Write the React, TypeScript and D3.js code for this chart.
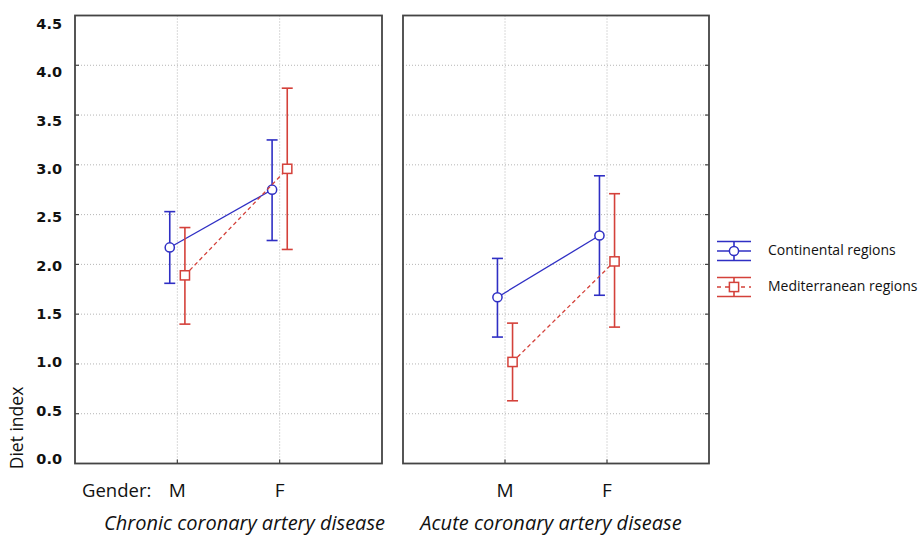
import React from "react";
import * as d3 from "d3";

const panels = ["Chronic coronary artery disease", "Acute coronary artery disease"];
const genders = ["M", "F"];
const yTicks = [0, 0.5, 1, 1.5, 2, 2.5, 3, 3.5, 4, 4.5];
const seriesNames = ["Continental regions", "Mediterranean regions"];

// [panel][gender] values
const contMean = [[2.17, 2.75], [1.67, 2.29]];
const contLow = [[1.81, 2.24], [1.27, 1.69]];
const contHigh = [[2.53, 3.25], [2.06, 2.89]];
const medMean = [[1.89, 2.96], [1.02, 2.03]];
const medLow = [[1.40, 2.15], [0.63, 1.37]];
const medHigh = [[2.37, 3.77], [1.41, 2.71]];

const BLUE = "#2f2fc4";
const RED = "#d4413a";
const AXIS = "#444";
const GRID = "#b5b5b5";

export default function App() {
  const W = 922, H = 536;
  const top = 15.5, bottom = 463.5;
  const panelX = [[75, 382], [403, 709]];
  const titleX = [244.5, 551];
  const y = d3.scaleLinear().domain([0, 4.5]).range([bottom, top]);
  const yLabel = d3.scaleLinear().domain([0, 4.5]).range([460, 25]);
  const off = 0.074;

  const series = [
    { name: seriesNames[0], mean: contMean, low: contLow, high: contHigh, color: BLUE, dx: -off, dash: null, marker: "circle" },
    { name: seriesNames[1], mean: medMean, low: medLow, high: medHigh, color: RED, dx: off, dash: "4,3", marker: "square" },
  ];

  const marker = (kind: string, cx: number, cy: number, color: string, key: string) =>
    kind === "circle" ? (
      <circle key={key} cx={cx} cy={cy} r={4.6} fill="#fff" stroke={color} strokeWidth={1.5} />
    ) : (
      <rect key={key} x={cx - 4.6} y={cy - 4.6} width={9.2} height={9.2} fill="#fff" stroke={color} strokeWidth={1.5} />
    );

  return (
    <svg width={W} height={H} style={{ display: "block", position: "absolute", left: 0, top: 0 }}>
      <rect x={0} y={0} width={W} height={H} fill="#fff" />
      {panels.map((p, pi) => {
        const [x0, x1] = panelX[pi];
        const x = d3.scaleLinear().domain([0, 3]).range([x0, x1]);
        return (
          <g key={p}>
            {yTicks.slice(1, -1).map((t) => (
              <line key={"g" + t} x1={x0} x2={x1} y1={y(t)} y2={y(t)} stroke={GRID} strokeDasharray="1,2" />
            ))}
            {genders.map((g, gi) => (
              <line key={"v" + g} x1={x(gi + 1)} x2={x(gi + 1)} y1={top} y2={bottom} stroke={GRID} strokeDasharray="1,2" />
            ))}
            {genders.map((g, gi) => (
              <line key={"bt" + g} x1={x(gi + 1)} x2={x(gi + 1)} y1={bottom} y2={bottom - 4} stroke={AXIS} strokeWidth={1.2} />
            ))}
            {yTicks.slice(1, -1).map((t) => (
              <line key={"t" + t} x1={pi === 0 ? x0 : x1} x2={pi === 0 ? x0 + 4 : x1 - 4} y1={y(t)} y2={y(t)} stroke={AXIS} strokeWidth={1.2} />
            ))}
            <rect x={x0} y={top} width={x1 - x0} height={bottom - top} fill="none" stroke={AXIS} strokeWidth={1.8} />
            {series.map((s) => {
              const pts = genders.map((g, gi) => [x(gi + 1 + s.dx), y(s.mean[pi][gi])] as [number, number]);
              const line = d3.line()(pts) as string;
              return (
                <g key={s.name}>
                  <path d={line} fill="none" stroke={s.color} strokeWidth={1.3} strokeDasharray={s.dash || undefined} />
                  {genders.map((g, gi) => {
                    const cx = x(gi + 1 + s.dx);
                    const yl = y(s.low[pi][gi]);
                    const yh = y(s.high[pi][gi]);
                    return (
                      <g key={g} stroke={s.color} strokeWidth={1.6}>
                        <line x1={cx} x2={cx} y1={yh} y2={yl} />
                        <line x1={cx - 5.5} x2={cx + 5.5} y1={yh} y2={yh} />
                        <line x1={cx - 5.5} x2={cx + 5.5} y1={yl} y2={yl} />
                      </g>
                    );
                  })}
                  {genders.map((g, gi) => marker(s.marker, x(gi + 1 + s.dx), y(s.mean[pi][gi]), s.color, "m" + g))}
                </g>
              );
            })}
            {genders.map((g, gi) => (
              <text key={"l" + g} x={x(gi + 1)} y={492} textAnchor="middle" dominantBaseline="middle"
                fontFamily="Open Sans, sans-serif" fontSize={19} fill="#111">{g}</text>
            ))}
            <text x={titleX[pi]} y={525} textAnchor="middle" dominantBaseline="middle"
              fontFamily="Open Sans, sans-serif" fontStyle="italic" fontSize={20} fill="#111">{p}</text>
          </g>
        );
      })}
      {yTicks.map((t) => (
        <text key={"yl" + t} x={62} y={yLabel(t)} textAnchor="end" dominantBaseline="middle"
          fontFamily="DejaVu Sans, sans-serif" fontWeight="bold" fontSize={14.5} fill="#111">{d3.format(".1f")(t)}</text>
      ))}
      <text transform="translate(18,428) rotate(-90)" textAnchor="middle" dominantBaseline="middle"
        fontFamily="Open Sans, sans-serif" fontSize={17.5} fill="#111">Diet index</text>
      <text x={82} y={492} dominantBaseline="middle" fontFamily="Open Sans, sans-serif" fontSize={18.5} fill="#111">Gender:</text>
      {series.map((s, i) => {
        const cy = i === 0 ? 251 : 287;
        const cx = 734;
        return (
          <g key={"lg" + s.name}>
            <g stroke={s.color} strokeWidth={1.6}>
              <line x1={717} x2={751} y1={cy - 9.5} y2={cy - 9.5} />
              <line x1={717} x2={751} y1={cy + 9.5} y2={cy + 9.5} />
              <line x1={cx} x2={cx} y1={cy - 9.5} y2={cy + 9.5} />
              <line x1={717} x2={751} y1={cy} y2={cy} strokeDasharray={s.dash ? "4,4" : undefined} strokeWidth={1.3} />
            </g>
            {marker(s.marker, cx, cy, s.color, "lm")}
            <text x={768} y={cy} dominantBaseline="middle" fontFamily="Open Sans, sans-serif" fontSize={14} fill="#111">{s.name}</text>
          </g>
        );
      })}
    </svg>
  );
}
